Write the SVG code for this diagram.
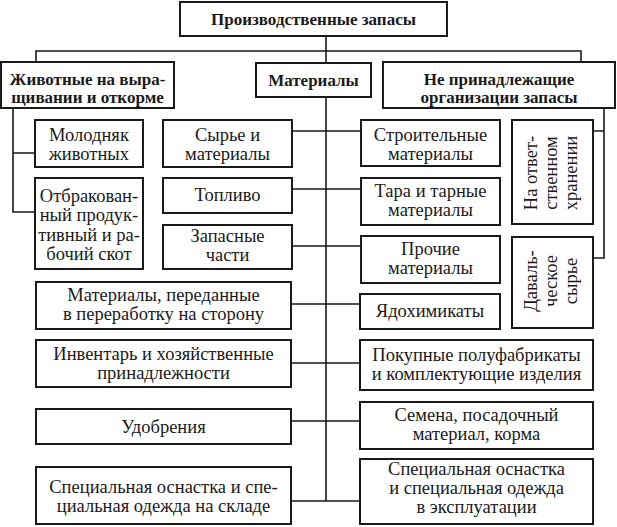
<svg xmlns="http://www.w3.org/2000/svg" width="617" height="527" viewBox="0 0 617 527">
<style>
.box{fill:#fff;stroke:#1a1a1a;stroke-width:2}
.ln{fill:none;stroke:#1a1a1a;stroke-width:1.6}
.t{font-family:"Liberation Serif","Times New Roman",serif;font-size:18.5px;fill:#1a1a1a;text-anchor:middle}
.b{font-family:"Liberation Serif","Times New Roman",serif;font-size:17px;font-weight:bold;fill:#1a1a1a;text-anchor:middle}
</style>
<rect width="617" height="527" fill="#fff"/>
<g id="connectors">
<path class="ln" d="M326 36V501"/>
<path class="ln" d="M36 62V51H581V62"/>
<path class="ln" d="M13 108V212H35M13 153H35"/>
<path class="ln" d="M604 108V258H593M604 131H593"/>
<path class="ln" d="M292 131H361M292 189H361M292 246H361M291 304H360M291 363H360M291 421H360M291 501H360"/>
</g>
<g id="n-root"><rect class="box" x="180" y="2" width="267" height="34"/><text class="b" x="313.5" y="25">Производственные запасы</text></g>
<g id="n-animals"><rect class="box" x="1" y="62" width="173" height="46"/><text class="b" x="87.5" y="85">Животные на выра-</text><text class="b" x="87.5" y="103">щивании и откорме</text></g>
<g id="n-materials"><rect class="box" x="256" y="63" width="115" height="34"/><text class="b" x="313.5" y="86">Материалы</text></g>
<g id="n-foreign"><rect class="box" x="383" y="62" width="232" height="46"/><text class="b" x="499" y="85">Не принадлежащие</text><text class="b" x="499" y="103">организации запасы</text></g>
<g id="n-young"><rect class="box" x="35" y="120" width="108" height="47"/><text class="t" x="89" y="141">Молодняк</text><text class="t" x="89" y="160">животных</text></g>
<g id="n-culled"><rect class="box" x="35" y="178" width="108" height="91"/><text class="t" x="89" y="202">Отбракован-</text><text class="t" x="89" y="221">ный продук-</text><text class="t" x="89" y="241">тивный и ра-</text><text class="t" x="89" y="260">бочий скот</text></g>
<g id="n-raw"><rect class="box" x="163" y="120" width="129" height="47"/><text class="t" x="227.5" y="141">Сырье и</text><text class="t" x="227.5" y="160">материалы</text></g>
<g id="n-fuel"><rect class="box" x="163" y="178" width="129" height="35"/><text class="t" x="227.5" y="201">Топливо</text></g>
<g id="n-spare"><rect class="box" x="163" y="225" width="129" height="44"/><text class="t" x="227.5" y="242">Запасные</text><text class="t" x="227.5" y="261">части</text></g>
<g id="n-build"><rect class="box" x="361" y="120" width="139" height="46"/><text class="t" x="430.5" y="141">Строительные</text><text class="t" x="430.5" y="160">материалы</text></g>
<g id="n-tare"><rect class="box" x="361" y="178" width="139" height="47"/><text class="t" x="430.5" y="197">Тара и тарные</text><text class="t" x="430.5" y="216">материалы</text></g>
<g id="n-other"><rect class="box" x="361" y="236" width="139" height="47"/><text class="t" x="430.5" y="255">Прочие</text><text class="t" x="430.5" y="274">материалы</text></g>
<g id="n-toxic"><rect class="box" x="360" y="294" width="140" height="35"/><text class="t" x="430" y="317">Ядохимикаты</text></g>
<g id="n-custody"><rect class="box" x="512" y="120" width="81" height="104"/><text class="t" transform="translate(537,173) rotate(-90)">На ответ-</text><text class="t" transform="translate(557,173) rotate(-90)">ственном</text><text class="t" transform="translate(577,173) rotate(-90)">хранении</text></g>
<g id="n-tolling"><rect class="box" x="512" y="237" width="81" height="91"/><text class="t" transform="translate(537,281) rotate(-90)">Даваль-</text><text class="t" transform="translate(557,281) rotate(-90)">ческое</text><text class="t" transform="translate(577,281) rotate(-90)">сырье</text></g>
<g id="n-processing"><rect class="box" x="36" y="282" width="255" height="47"/><text class="t" x="163.5" y="301">Материалы, переданные</text><text class="t" x="163.5" y="320">в переработку на сторону</text></g>
<g id="n-inventory"><rect class="box" x="36" y="340" width="255" height="47"/><text class="t" x="163.5" y="360">Инвентарь и хозяйственные</text><text class="t" x="163.5" y="379">принадлежности</text></g>
<g id="n-fert"><rect class="box" x="36" y="409" width="255" height="35"/><text class="t" x="163.5" y="433">Удобрения</text></g>
<g id="n-special-store"><rect class="box" x="36" y="467" width="255" height="57"/><text class="t" x="163.5" y="493">Специальная оснастка и спе-</text><text class="t" x="163.5" y="512">циальная одежда на складе</text></g>
<g id="n-semi"><rect class="box" x="360" y="340" width="233" height="50"/><text class="t" x="476.5" y="361">Покупные полуфабрикаты</text><text class="t" x="476.5" y="380">и комплектующие изделия</text></g>
<g id="n-seeds"><rect class="box" x="360" y="402" width="233" height="47"/><text class="t" x="476.5" y="421">Семена, посадочный</text><text class="t" x="476.5" y="440">материал, корма</text></g>
<g id="n-special-use"><rect class="box" x="360" y="459" width="233" height="65"/><text class="t" x="476.5" y="475">Специальная оснастка</text><text class="t" x="476.5" y="494">и специальная одежда</text><text class="t" x="476.5" y="513">в эксплуатации</text></g>
</svg>
